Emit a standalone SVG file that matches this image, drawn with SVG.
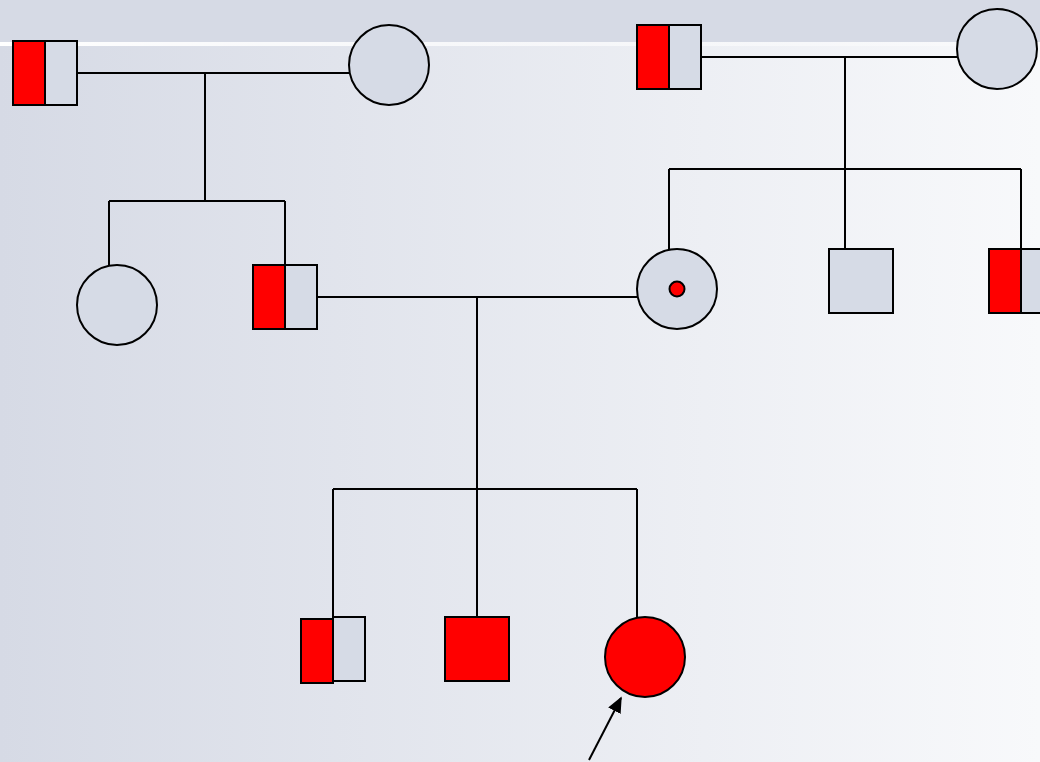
<svg xmlns="http://www.w3.org/2000/svg" width="1040" height="762" viewBox="0 0 1040 762">
<defs>
<linearGradient id="bg" x1="0" y1="0" x2="1" y2="0">
<stop offset="0" stop-color="#d6dae5"/>
<stop offset="1" stop-color="#f8f9fb"/>
</linearGradient>
<linearGradient id="wl" x1="0" y1="0" x2="1" y2="0">
<stop offset="0" stop-color="#ffffff" stop-opacity="1"/>
<stop offset="1" stop-color="#ffffff" stop-opacity="0.3"/>
</linearGradient>
<marker id="ah" viewBox="0 0 10 10" refX="9" refY="5" markerWidth="8" markerHeight="7" orient="auto" markerUnits="strokeWidth" preserveAspectRatio="none">
<path d="M0,0 L10,5 L0,10 z" fill="#000"/>
</marker>
<style>
.s{stroke:#000;stroke-width:2;}
.g{fill:#d6dbe6;}
.r{fill:#ff0000;}
.ln{stroke:#000;stroke-width:2;fill:none;}
</style>
</defs>
<rect x="0" y="0" width="1040" height="762" fill="url(#bg)"/>
<rect x="0" y="0" width="1040" height="42" fill="#d6dae5"/>
<rect x="0" y="42" width="1040" height="4" fill="url(#wl)"/>
<g id="connectors">
<path class="ln" d="M77,73 H349 M205,73 V201 M109,201 H285 M109,201 V266 M285,201 V265"/>
<path class="ln" d="M701,57 H957 M845,57 V169 M669,169 H1021 M669,169 V249 M845,169 V249 M1021,169 V249"/>
<path class="ln" d="M317,297 H637 M477,297 V489 M333,489 H637 M333,489 V617 M477,489 V617 M637,489 V618"/>
<line class="ln" x1="589" y1="760" x2="621" y2="698" marker-end="url(#ah)" stroke-width="2"/>
</g>
<g id="gp1-male">
<rect class="s r" x="13" y="41" width="32" height="64"/>
<rect class="s g" x="45" y="41" width="32" height="64"/>
</g>
<g id="gp1-female"><circle class="s g" cx="389" cy="65" r="40"/></g>
<g id="gp2-male">
<rect class="s r" x="637" y="25" width="32" height="64"/>
<rect class="s g" x="669" y="25" width="32" height="64"/>
</g>
<g id="gp2-female"><circle class="s g" cx="997" cy="49" r="40"/></g>
<g id="aunt"><circle class="s g" cx="117" cy="305" r="40"/></g>
<g id="father">
<rect class="s r" x="253" y="265" width="32" height="64"/>
<rect class="s g" x="285" y="265" width="32" height="64"/>
</g>
<g id="mother">
<circle class="s g" cx="677" cy="289" r="40"/>
<circle class="s r" cx="677" cy="289" r="7.5"/>
</g>
<g id="uncle1"><rect class="s g" x="829" y="249" width="64" height="64"/></g>
<g id="uncle2">
<rect class="s r" x="989" y="249" width="32" height="64"/>
<rect class="s g" x="1021" y="249" width="32" height="64"/>
</g>
<g id="child1">
<rect class="s r" x="301" y="619" width="32" height="64"/>
<rect class="s g" x="333" y="617" width="32" height="64"/>
</g>
<g id="child2"><rect class="s r" x="445" y="617" width="64" height="64"/></g>
<g id="proband"><circle class="s r" cx="645" cy="657" r="40"/></g>
</svg>
